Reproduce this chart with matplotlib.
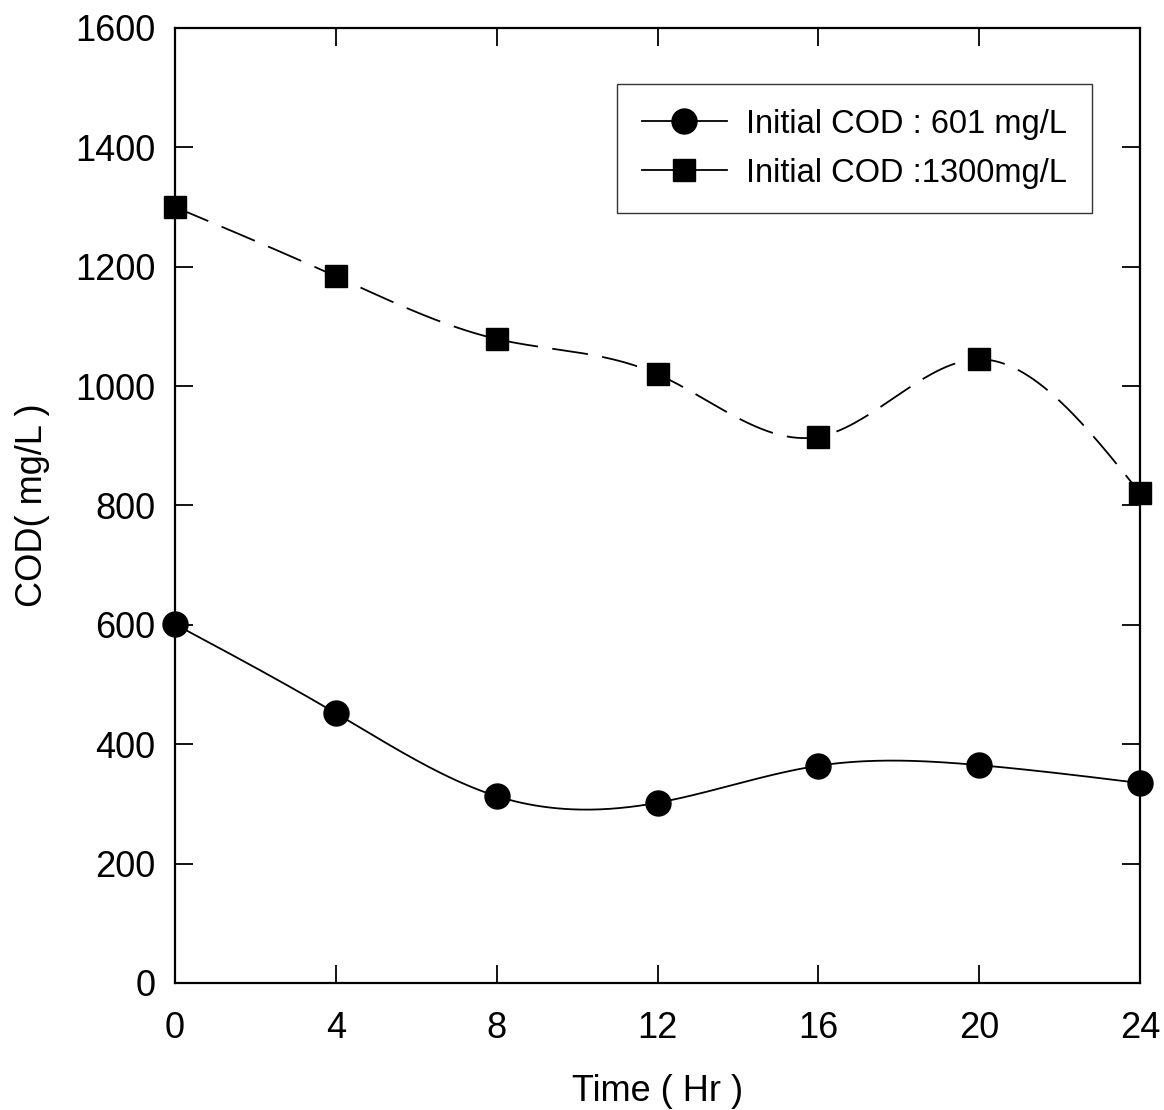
import numpy as np
import matplotlib
matplotlib.use("Agg")
import matplotlib.pyplot as plt

# 数据
time_hr = [0, 4, 8, 12, 16, 20, 24]
cod_601 = [601, 452, 313, 302, 364, 365, 335]
cod_1300 = [1300, 1184, 1079, 1020, 915, 1045, 821]

label_601 = "Initial COD : 601 mg/L"
label_1300 = "Initial COD :1300mg/L"


def natural_spline(x, y, n=400):
    """自然三次样条，只用来画平滑曲线"""
    x = np.asarray(x, float)
    y = np.asarray(y, float)
    m = len(x)
    h = np.diff(x)
    A = np.zeros((m, m))
    b = np.zeros(m)
    A[0, 0] = A[-1, -1] = 1
    for i in range(1, m - 1):
        A[i, i - 1] = h[i - 1]
        A[i, i] = 2 * (h[i - 1] + h[i])
        A[i, i + 1] = h[i]
        b[i] = 6 * ((y[i + 1] - y[i]) / h[i] - (y[i] - y[i - 1]) / h[i - 1])
    M = np.linalg.solve(A, b)
    xs = np.linspace(x[0], x[-1], n)
    idx = np.clip(np.searchsorted(x, xs) - 1, 0, m - 2)
    x0, x1 = x[idx], x[idx + 1]
    hh = x1 - x0
    t0, t1 = x1 - xs, xs - x0
    ys = (M[idx] * t0**3 + M[idx + 1] * t1**3) / (6 * hh) \
        + (y[idx] / hh - M[idx] * hh / 6) * t0 \
        + (y[idx + 1] / hh - M[idx + 1] * hh / 6) * t1
    return xs, ys


plt.rcParams['font.family'] = ['Liberation Sans', 'DejaVu Sans']

fig = plt.figure(figsize=(11.64, 11.10), dpi=100)
ax = fig.add_axes([175 / 1164, 1 - 983 / 1110, 965 / 1164, 955 / 1110])

xs, ys = natural_spline(time_hr, cod_601)
ax.plot(xs, ys, color='black', lw=1.3)
ax.plot(time_hr, cod_601, 'o', color='black', ms=18, clip_on=False, zorder=5)

xs, ys = natural_spline(time_hr, cod_1300)
ax.plot(xs, ys, color='black', lw=1.3, dashes=(20, 8))
ax.plot(time_hr, cod_1300, 's', color='black', ms=16, clip_on=False, zorder=5)

# 图例用的代理线
h1, = ax.plot([], [], '-o', color='black', lw=1.3, ms=18)
h2, = ax.plot([], [], '-s', color='black', lw=1.3, ms=16)
leg = ax.legend([h1, h2], [label_601, label_1300], loc='upper right',
                bbox_to_anchor=(0.950, 0.941), fontsize=23.5, frameon=True,
                fancybox=False, edgecolor='black', borderpad=0.75,
                handlelength=2.6, labelspacing=0.55, handletextpad=0.6,
                borderaxespad=0)
leg.get_frame().set_linewidth(1.0)

ax.set_xlim(0, 24)
ax.set_ylim(0, 1600)
ax.set_xticks(time_hr)
ax.set_yticks(np.arange(0, 1601, 200))
ax.tick_params(direction='in', length=13, width=1.3, labelsize=26,
               top=True, right=True, pad=14)
ax.tick_params(axis='x', pad=20)
for s in ax.spines.values():
    s.set_linewidth(1.6)

ax.set_xlabel('Time ( Hr )', fontsize=26, labelpad=20)
ax.set_ylabel('COD( mg/L )', fontsize=26, labelpad=18)

fig.savefig('out.png', dpi=100)
